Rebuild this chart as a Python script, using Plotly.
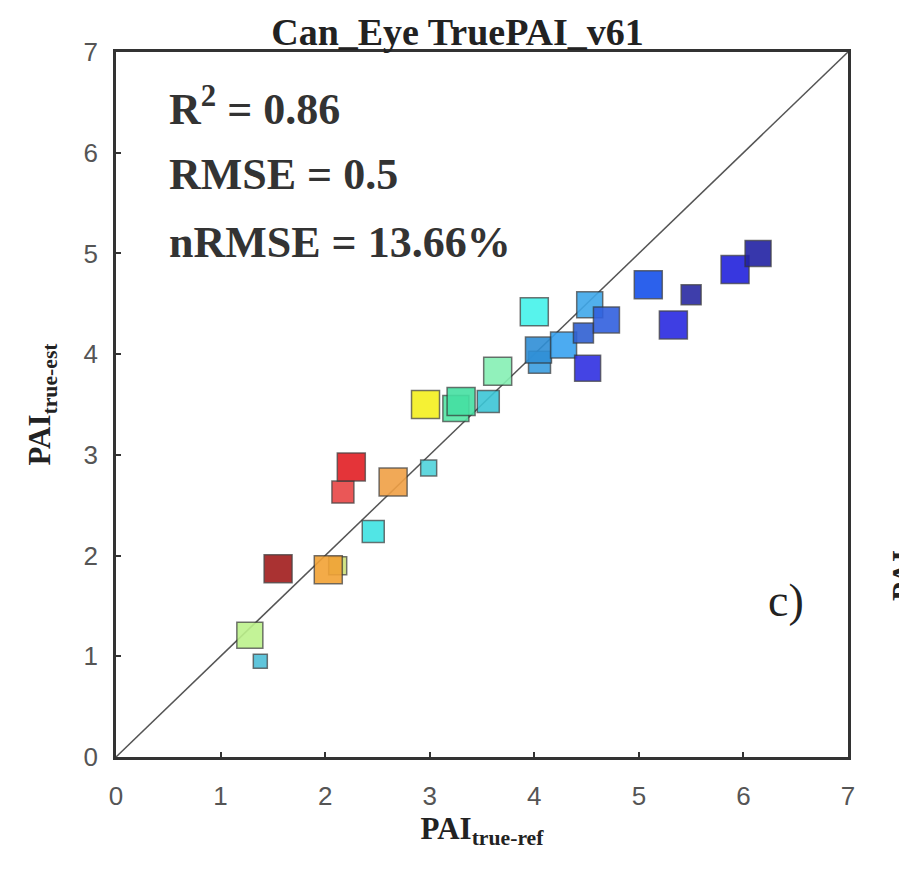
import plotly.graph_objects as go

# Data
pai_ref = [1.28, 1.38, 1.55, 2.12, 2.03, 2.46, 2.17, 2.25, 2.65, 2.99, 2.96, 3.25, 3.30, 3.56,
           3.65, 4.00, 4.05, 4.04, 4.28, 4.47, 4.53, 4.69, 4.51, 5.09, 5.50, 5.33, 5.92, 6.14]
pai_est = [1.21, 0.95, 1.87, 1.90, 1.86, 2.24, 2.63, 2.88, 2.73, 2.87, 3.50, 3.46, 3.53, 3.53,
           3.83, 4.42, 3.92, 4.04, 4.09, 4.21, 4.49, 4.34, 3.86, 4.69, 4.59, 4.29, 4.84, 5.00]
point_colors = ["#bdf28c", "#4fbfd8", "#a11c1c", "#cfe27a", "#f2a235", "#3fe3e3", "#e84545",
                "#e21f24", "#f0a045", "#4fd3db", "#f4f01f", "#55e6a5", "#45e0a2", "#3cc6d6",
                "#86f0b4", "#45f2ea", "#3b9ee0", "#2f8fd6", "#39a3f0", "#3060d2", "#3fa8ea",
                "#3160de", "#3030e2", "#1650ea", "#2a2aa2", "#2a2ae0", "#2222dc", "#2222a4"]
point_sizes = [26, 14, 28, 18, 28, 22, 22, 28, 28, 16, 28, 26, 28, 22,
               28, 28, 22, 26, 26, 20, 26, 26, 26, 28, 20, 28, 28, 26]

stats_lines = ["<b>R<sup>2</sup> = 0.86</b>", "<b>RMSE = 0.5</b>", "<b>nRMSE = 13.66%</b>"]
axis_ticks = [0, 1, 2, 3, 4, 5, 6, 7]

fig = go.Figure()

fig.add_trace(go.Scatter(
    x=[0, 7], y=[0, 7], mode="lines",
    line=dict(color="#555555", width=1.5), showlegend=False, hoverinfo="skip"))

fig.add_trace(go.Scatter(
    x=pai_ref, y=pai_est, mode="markers",
    marker=dict(symbol="square", size=point_sizes, color=point_colors, opacity=0.9,
                line=dict(color="rgba(50,50,50,0.75)", width=1.5)),
    showlegend=False))

axis_common = dict(range=[0, 7], tickvals=axis_ticks, ticks="inside", ticklen=5,
                   tickwidth=1.5, tickcolor="#333", showline=True, linewidth=2.5,
                   linecolor="#333", mirror=True, showgrid=False, zeroline=False,
                   tickfont=dict(family="Liberation Sans", size=26, color="#555"))

fig.update_xaxes(**axis_common, ticklabelstandoff=14,
                 title=dict(text="<b>PAI</b><sub><b>true-ref</b></sub>",
                            font=dict(family="Liberation Serif", size=31, color="#222"),
                            standoff=0))
fig.update_yaxes(**axis_common, ticklabelstandoff=10,
                 title=dict(text="<b>PAI</b><sub><b>true-est</b></sub>",
                            font=dict(family="Liberation Serif", size=31, color="#222"),
                            standoff=24))

for i, t in enumerate(stats_lines):
    fig.add_annotation(x=0.069, y=0.922 - i * 0.096, xref="paper", yref="paper",
                       text=t, showarrow=False, xanchor="left", yanchor="middle",
                       font=dict(family="Liberation Serif", size=44, color="#333"))

fig.add_annotation(x=0.942, y=0.222, xref="paper", yref="paper", text="c)",
                   showarrow=False, xanchor="right", yanchor="middle",
                   font=dict(family="Liberation Serif", size=46, color="#222"))

# fragment of the neighbouring panel's axis title, cut by the right edge
fig.add_annotation(x=1.075, y=0.258, xref="paper", yref="paper", text="<b>PAI</b>",
                   showarrow=False, textangle=-90, xanchor="center", yanchor="middle",
                   font=dict(family="Liberation Serif", size=31, color="#222"))

fig.update_layout(
    width=899, height=873,
    margin=dict(l=108, r=59, t=44, b=124),
    paper_bgcolor="white", plot_bgcolor="white",
    title=dict(text="<b>Can_Eye TruePAI_v61</b>", x=0.5, xanchor="center",
               y=0.973, yanchor="middle",
               font=dict(family="Liberation Serif", size=38, color="#222")),
)

fig.write_html("out.html")
